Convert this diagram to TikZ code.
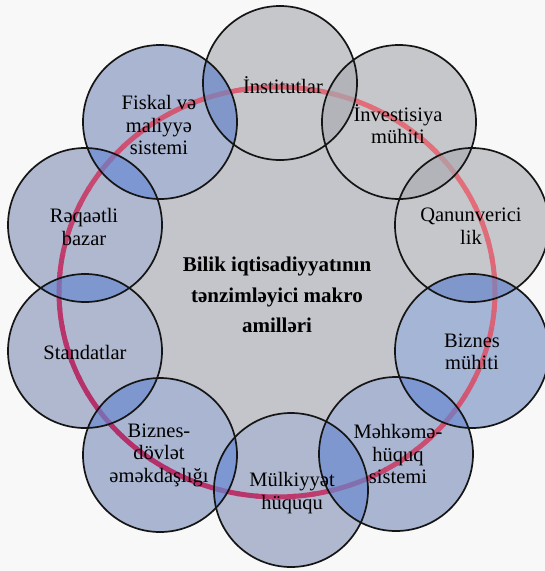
\documentclass[tikz,border=0pt]{standalone}
\usepackage{fontspec}
\setmainfont{Liberation Serif}
\definecolor{bgcol}{HTML}{F8F8F8}
\definecolor{centerfill}{HTML}{C3C5CA}
\definecolor{grayfill}{HTML}{C6C7CB}
\definecolor{bluefillA}{HTML}{A9B5D1}
\definecolor{bluefillB}{HTML}{AFB8CE}
\definecolor{bluefillC}{HTML}{A5B5D6}
\definecolor{lensgray}{HTML}{A8ABB1}
\definecolor{lensmix}{HTML}{6D88C6}
\definecolor{lensblue}{HTML}{6488D1}
\definecolor{ringA}{HTML}{E2707A}
\definecolor{ringB}{HTML}{B52F6A}
\definecolor{bordercol}{HTML}{151515}
\tikzset{
  circborder/.style={draw=bordercol, line width=1.7pt},
  lbl/.style={font=\fontsize{20.5}{22.5}\selectfont, align=center, inner sep=0pt, text=black},
  ctrlbl/.style={font=\bfseries\fontsize{21}{30.5}\selectfont, align=center, inner sep=0pt, text=black},
  ringseg/.style={line width=5pt, line cap=butt}
}
\newcommand{\rr}{77}
\begin{document}
\begin{tikzpicture}[x=1pt,y=-1pt]
\fill[bgcol] (0,0) rectangle (545,571);
\useasboundingbox (0,0) rectangle (545,571);
% centres
\coordinate (ring) at (277,292);
\coordinate (c1) at (280,83);
\coordinate (c2) at (399,122);
\coordinate (c3) at (472,225);
\coordinate (c4) at (472,351);
\coordinate (c5) at (396,454);
\coordinate (c6) at (291,490);
\coordinate (c7) at (160,455);
\coordinate (c8) at (85,351);
\coordinate (c9) at (85,225);
\coordinate (c10) at (160,122);
% central area
\fill[centerfill] (ring) ellipse[x radius=218, y radius=205];
% circle fills
\fill[grayfill] (c1) circle[radius=\rr];
\fill[grayfill] (c2) circle[radius=\rr];
\fill[grayfill] (c3) circle[radius=\rr];
\fill[bluefillC] (c4) circle[radius=\rr];
\fill[bluefillA] (c5) circle[radius=\rr];
\fill[bluefillB] (c6) circle[radius=\rr];
\fill[bluefillA] (c7) circle[radius=\rr];
\fill[bluefillB] (c8) circle[radius=\rr];
\fill[bluefillB] (c9) circle[radius=\rr];
\fill[bluefillA] (c10) circle[radius=\rr];
% gradient ring
\foreach \a in {0,5,...,355}{
  \pgfmathtruncatemacro\t{50*(1+cos(\a+2.5-315))}
  \draw[ringseg, draw=ringA!\t!ringB] ([shift={(\a:218 and 205)}]ring) arc[start angle=\a, end angle=\a+5.6, x radius=218, y radius=205];
}
% overlaps
\foreach \p/\q/\col in {c1/c2/lensgray, c2/c3/lensgray, c3/c4/lensmix, c4/c5/lensblue, c5/c6/lensblue, c6/c7/lensblue, c7/c8/lensblue, c8/c9/lensblue, c9/c10/lensblue, c10/c1/lensmix}{
  \begin{scope}
    \clip (\p) circle[radius=\rr];
    \fill[\col, opacity=0.65] (\q) circle[radius=\rr];
  \end{scope}
}
% borders
\foreach \c in {c1,c2,c3,c4,c5,c6,c7,c8,c9,c10}{
  \draw[circborder] (\c) circle[radius=\rr];
}
% labels
\node[ctrlbl] (t0) at (277,295) {Bilik iqtisadiyyatının\\tənzimləyici makro\\amilləri};
\node[lbl] (t1) at (283,85) {İnstitutlar};
\node[lbl] (t2) at (398,124) {İnvestisiya\\mühiti};
\node[lbl] (t3) at (471,226) {Qanunverici\\lik};
\node[lbl] (t4) at (472,352) {Biznes\\mühiti};
\node[lbl] (t5) at (398,454) {Məhkəmə-\\hüquq\\sistemi};
\node[lbl] (t6) at (292,493) {Mülkiyyət\\hüququ};
\node[lbl] (t7) at (159,455) {Biznes-\\dövlət\\əməkdaşlığı};
\node[lbl] (t8) at (85,352) {Standatlar};
\node[lbl] (t9) at (84,227) {Rəqaətli\\bazar};
\node[lbl] (t10) at (159,125) {Fiskal və\\maliyyə\\sistemi};
\end{tikzpicture}
\end{document}
